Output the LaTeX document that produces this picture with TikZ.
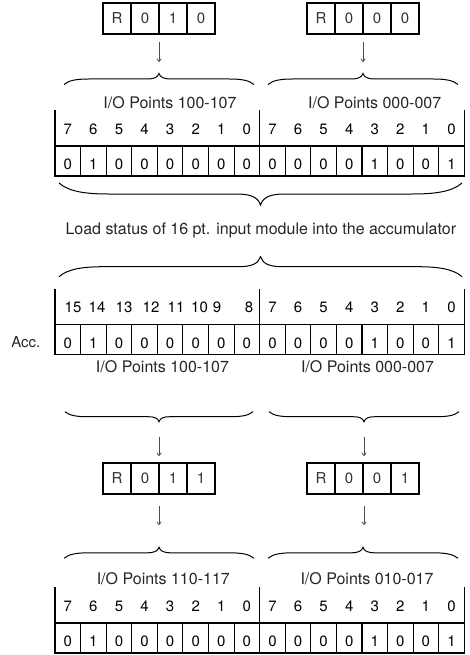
\documentclass[tikz,border=0pt]{standalone}
\usepackage{fontspec}
\setmainfont{TeX Gyre Heros}
\usetikzlibrary{arrows.meta}
% curly brace: #1 x-left, #2 x-right, #3 y of ends, #4 signed amplitude (positive = tip down)
\newcommand\cbrace[4]{%
  \pgfmathsetmacro\bxm{(#1+#2)/2}%
  \pgfmathsetmacro\bh{#4/2}%
  \pgfmathsetmacro\bk{2.25*abs(#4)}%
  \pgfmathsetmacro\bm{1.1*abs(#4)}%
  \draw[brc] (#1,#3) .. controls ({#1+0.2*\bk},{#3+0.8*\bh}) and ({#1+0.55*\bk},{#3+\bh}) .. ({#1+\bk},{#3+\bh})
    -- ({\bxm-\bm},{#3+\bh}) .. controls ({\bxm-0.4*\bm},{#3+\bh}) and ({\bxm-0.1*\bm},{#3+1.3*\bh}) .. (\bxm,{#3+#4})
    .. controls ({\bxm+0.1*\bm},{#3+1.3*\bh}) and ({\bxm+0.4*\bm},{#3+\bh}) .. ({\bxm+\bm},{#3+\bh})
    -- ({#2-\bk},{#3+\bh}) .. controls ({#2-0.55*\bk},{#3+\bh}) and ({#2-0.2*\bk},{#3+0.8*\bh}) .. (#2,#3);}
% register box: #1 name, #2 cx, #3 cy, #4 #5 #6 digits
\newcommand\rreg[6]{%
  \node[rbox] (#1) at (#2,#3) {};
  \foreach \k in {1,2,3} \draw[tl] ({#2-56+28*\k},{#3-15.5}) -- ({#2-56+28*\k},{#3+15.5});
  \node[rtxt] (#1-a) at ({#2-42},{#3+5.4}) {R};
  \node[rtxt] (#1-b) at ({#2-14},{#3+5.4}) {#4};
  \node[rtxt] (#1-c) at ({#2+14},{#3+5.4}) {#5};
  \node[rtxt] (#1-d) at ({#2+42},{#3+5.4}) {#6};}
% bit table frame and bits: #1 name, #2 top y
\newcommand\bittable[2]{%
  \draw[tl] (55,#2) -- (55,{#2+66}) -- (464.3,{#2+66}) -- (464.3,#2);
  \draw[tl] (259.64,#2) -- (259.64,{#2+66});
  \draw[tl] (55,{#2+36}) -- (464.3,{#2+36});
  \foreach \k in {1,...,15} \draw[tl] ({55+25.58*\k},{#2+36}) -- ({55+25.58*\k},{#2+66});
  \foreach \b [count=\i from 0] in {0,1,0,0,0,0,0,0,0,0,0,0,1,0,0,1}
    \node[bit] (#1b\i) at ({55+25.58*(\i+0.5)},{#2+59.5}) {\b};}
\newcommand\byteheader[2]{%
  \foreach \d [count=\i from 0] in {7,6,5,4,3,2,1,0,7,6,5,4,3,2,1,0}
    \node[bit] (#1h\i) at ({55+25.58*(\i+0.5)},{#2+24.3}) {\d};}
\begin{document}
\begin{tikzpicture}[x=1pt,y=-1pt,
  tl/.style={line width=1.1pt, black},
  brc/.style={line width=1pt, black},
  arr/.style={line width=0.8pt, black!70, -{To[length=3.5pt,width=5pt]}},
  lbl/.style={anchor=base, inner sep=0, font=\fontsize{16}{19}\selectfont, text=black!85},
  bit/.style={anchor=base, inner sep=0, font=\fontsize{15}{18}\selectfont},
  rtxt/.style={anchor=base, inner sep=0, font=\fontsize{15}{18}\selectfont, text=black!80},
  rbox/.style={draw, line width=1.1pt, minimum width=112pt, minimum height=31pt, inner sep=0}]
\useasboundingbox (0,0) rectangle (469,655);

% ---------- top: two registers into 16 pt module ----------
\rreg{R010}{159}{18.5}{0}{1}{0}
\rreg{R000}{363}{18.5}{0}{0}{0}
\coordinate (a1s) at (159,42); \coordinate (a1e) at (159,62);
\coordinate (a2s) at (363,42); \coordinate (a2e) at (363,62);
\draw[arr] (a1s) -- (a1e);
\draw[arr] (a2s) -- (a2e);
\cbrace{64}{254}{84.5}{-11}
\cbrace{268}{458}{84.5}{-11}
\node[lbl] (l1) at (170,109) {I/O Points 100-107};
\node[lbl] (l2) at (374.7,109) {I/O Points 000-007};
\bittable{t}{110}
\byteheader{t}{110}

\cbrace{59}{462}{183}{22}
\node[lbl] (load) at (260.8,234) {Load status of 16 pt. input module into the accumulator};
\cbrace{59}{462}{276.7}{-20}

% ---------- accumulator ----------
\bittable{acc}{288.5}
\foreach \d/\x [count=\i from 0] in {15/73,14/97,13/124,12/151,11/176,10/199.5,9/217,8/249}
  \node[bit] (acch\i) at (\x,312.8) {\d};
\foreach \d [count=\i from 8] in {7,6,5,4,3,2,1,0}
  \node[bit] (acch\i) at ({55+25.58*(\i+0.5)},312.8) {\d};
\node[lbl, font=\fontsize{15}{18}\selectfont] (accl) at (25.8,347.5) {Acc.};
\node[lbl] (l3) at (162.5,372) {I/O Points 100-107};
\node[lbl] (l4) at (367.5,372) {I/O Points 000-007};

\cbrace{65}{253}{411.7}{10}
\cbrace{269}{459}{411.7}{10}
\coordinate (a3s) at (159,437); \coordinate (a3e) at (159,456);
\coordinate (a4s) at (364,437); \coordinate (a4e) at (364,456);
\draw[arr] (a3s) -- (a3e);
\draw[arr] (a4s) -- (a4e);
\rreg{R011}{159}{478.5}{0}{1}{1}
\rreg{R001}{363}{478.5}{0}{0}{1}
\coordinate (a5s) at (159,506); \coordinate (a5e) at (159,525);
\coordinate (a6s) at (364,506); \coordinate (a6e) at (364,525);
\draw[arr] (a5s) -- (a5e);
\draw[arr] (a6s) -- (a6e);
\cbrace{64}{254}{558.3}{-11}
\cbrace{268}{458}{558.3}{-11}
\node[lbl] (l5) at (163.3,584.5) {I/O Points 110-117};
\node[lbl] (l6) at (367,584.5) {I/O Points 010-017};
\bittable{b}{587}
\byteheader{b}{587}
\end{tikzpicture}
\end{document}
